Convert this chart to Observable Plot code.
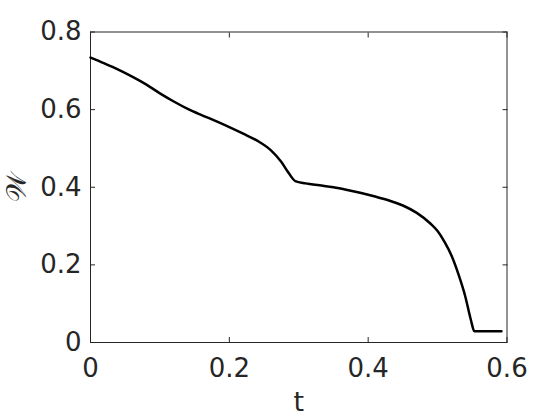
<!DOCTYPE html>
<html><head><meta charset="utf-8">
<script src="https://cdn.jsdelivr.net/npm/d3@7"></script>
<script src="https://cdn.jsdelivr.net/npm/@observablehq/plot@0.6"></script>
<style>body{margin:0;background:#fff}svg{display:block}</style>
</head><body><div id="c"></div>
<script>
const tVals = [0, 0.02, 0.04, 0.06, 0.08, 0.10, 0.12, 0.14, 0.16, 0.18, 0.20, 0.22, 0.24, 0.26, 0.275, 0.285, 0.295, 0.31, 0.33, 0.35, 0.37, 0.39, 0.41, 0.43, 0.45, 0.47, 0.49, 0.50, 0.51, 0.52, 0.53, 0.54, 0.548, 0.553, 0.592];
const wVals = [0.734, 0.719, 0.703, 0.685, 0.665, 0.642, 0.621, 0.602, 0.586, 0.571, 0.555, 0.538, 0.520, 0.495, 0.465, 0.438, 0.416, 0.410, 0.405, 0.400, 0.393, 0.385, 0.376, 0.366, 0.353, 0.334, 0.306, 0.287, 0.259, 0.224, 0.176, 0.118, 0.058, 0.029, 0.029];
const xTicks = [0, 0.2, 0.4, 0.6];
const yTicks = [0, 0.2, 0.4, 0.6, 0.8];
const data = tVals.map((t, i) => ({t, w: wVals[i]}));
const ink = "#262626";
const fmt = d => d === 0 ? "0" : String(d);
const chart = Plot.plot({
  width: 560, height: 420,
  marginLeft: 90, marginRight: 53.5, marginTop: 31.5, marginBottom: 78,
  style: {fontFamily: "DejaVu Sans", fontSize: "26px", color: ink, background: "#fff"},
  x: {domain: [0, 0.6]},
  y: {domain: [0, 0.8]},
  marks: [
    Plot.frame({stroke: ink, strokeWidth: 1}),
    Plot.axisX({anchor: "bottom", ticks: xTicks, tickSize: -5, tickPadding: 21, tickFormat: fmt, label: null, fill: ink, stroke: ink, fontSize: 26}),
    Plot.axisX({anchor: "top", ticks: xTicks, tickSize: -5, tickFormat: () => "", label: null, stroke: ink}),
    Plot.axisY({anchor: "left", ticks: yTicks, tickSize: -5, tickPadding: 14, tickFormat: fmt, label: null, fill: ink, stroke: ink, fontSize: 26}),
    Plot.axisY({anchor: "right", ticks: yTicks, tickSize: -5, tickFormat: () => "", label: null, stroke: ink}),
    Plot.line(data, {x: "t", y: "w", stroke: "#000", strokeWidth: 2.5, curve: "monotone-x"}),
    Plot.text(["t"], {x: 0.3, y: 0, dy: 68, text: d => d, fontSize: 27, fill: ink, frameAnchor: "bottom"}),
    Plot.text(["𝒲"], {x: 0, y: 0.4, dx: -73, text: d => d, fontSize: 28, fill: ink, rotate: -90, fontFamily: "DejaVu Serif"})
  ]
});
document.getElementById("c").appendChild(chart);
</script></body></html>
